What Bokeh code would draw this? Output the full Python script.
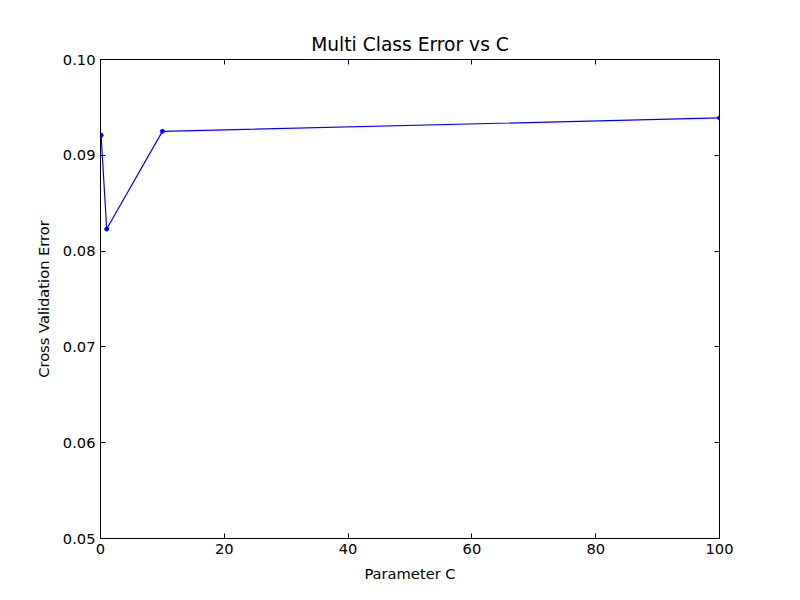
from bokeh.plotting import figure
from bokeh.models import LinearAxis, Range1d
from bokeh.embed import file_html
from bokeh.resources import INLINE

c_values = [0.1, 1, 10, 100]
cv_error = [0.0921, 0.0823, 0.0925, 0.0939]
x_ticks = [0, 20, 40, 60, 80, 100]
y_ticks = [0.05, 0.06, 0.07, 0.08, 0.09, 0.10]

p = figure(width=784, height=584, output_backend="svg", toolbar_location=None,
           x_range=Range1d(0, 100), y_range=Range1d(0.05, 0.10),
           min_border_left=100, min_border_right=65, min_border_top=59, min_border_bottom=44)
p.title.text = "Multi Class Error vs C"
p.title.align = "center"
p.title.text_font = "DejaVu Sans"
p.title.text_font_size = "14pt"
p.title.text_font_style = "normal"
p.title.text_color = "black"

p.line(c_values, cv_error, line_color="blue", line_width=1.2)
p.scatter(c_values, cv_error, size=4, color="blue")

p.xgrid.visible = False
p.ygrid.visible = False
p.outline_line_color = "black"
p.outline_line_width = 1
p.xaxis.axis_label = "Parameter C"
p.yaxis.axis_label = "Cross Validation Error"
p.xaxis.ticker = x_ticks
p.yaxis.ticker = y_ticks
p.yaxis.major_label_overrides = {v: "%.2f" % v for v in y_ticks}

for ax in [p.xaxis[0], p.yaxis[0]]:
    ax.axis_label_text_font = "DejaVu Sans"
    ax.axis_label_text_font_size = "11pt"
    ax.axis_label_text_font_style = "normal"
    ax.axis_label_text_color = "black"
    ax.major_label_text_font = "DejaVu Sans"
    ax.major_label_text_font_size = "11pt"
    ax.major_label_text_color = "black"
    ax.major_tick_in = 5
    ax.major_tick_out = 0
    ax.minor_tick_in = 0
    ax.minor_tick_out = 0
    ax.axis_line_color = None
    ax.axis_label_standoff = 8

top = LinearAxis(ticker=x_ticks, major_label_text_color=None,
                 major_tick_in=5, major_tick_out=0, minor_tick_in=0, minor_tick_out=0,
                 axis_line_color=None)
right = LinearAxis(ticker=y_ticks, major_label_text_color=None,
                   major_tick_in=5, major_tick_out=0, minor_tick_in=0, minor_tick_out=0,
                   axis_line_color=None)
p.add_layout(top, "above")
p.add_layout(right, "right")

open("out.html", "w").write(file_html(p, INLINE))
